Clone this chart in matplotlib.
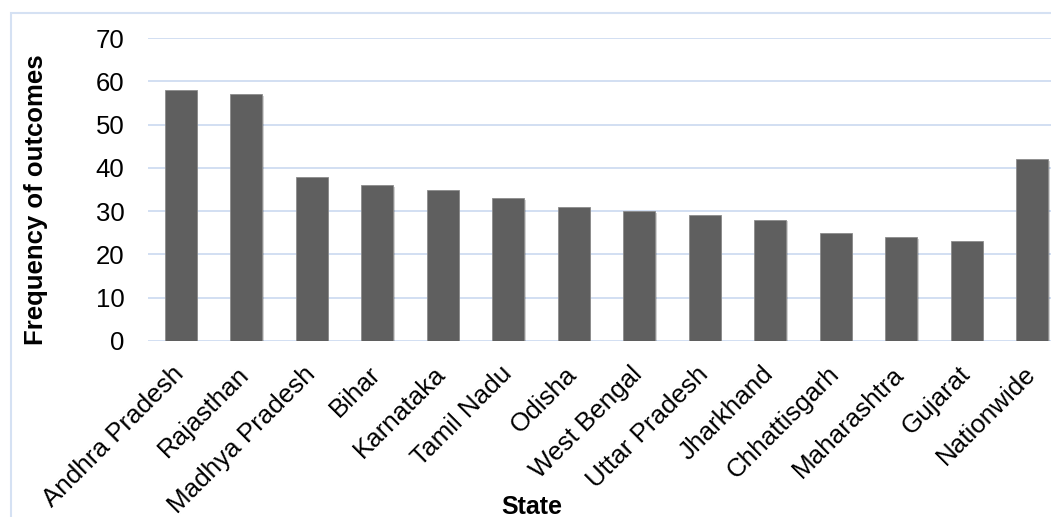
import matplotlib.pyplot as plt
import matplotlib.patheffects as pe
import matplotlib.transforms as mtransforms
from matplotlib.patches import Rectangle

states = ['Andhra Pradesh', 'Rajasthan', 'Madhya Pradesh', 'Bihar', 'Karnataka',
          'Tamil Nadu', 'Odisha', 'West Bengal', 'Uttar Pradesh', 'Jharkhand',
          'Chhattisgarh', 'Maharashtra', 'Gujarat', 'Nationwide']
outcomes = [58, 57, 38, 36, 35, 33, 31, 30, 29, 28, 25, 24, 23, 42]
yticks = [0, 10, 20, 30, 40, 50, 60, 70]

plt.rcParams['font.family'] = ['Liberation Sans', 'DejaVu Sans']

W, H = 1051, 517
fig = plt.figure(figsize=(W / 100, H / 100), dpi=100)
# plot area runs a little past the right edge of the canvas
ax = fig.add_axes([148 / W, (H - 341) / H, 917 / W, (341 - 38) / H])

x = range(len(states))
bars = ax.bar(x, outcomes, width=0.49, color='#5f5f5f', edgecolor='#8c8c8c',
              linewidth=0.6, zorder=3)
for b in bars:
    b.set_path_effects([pe.SimplePatchShadow(offset=(1.2, -1.2), shadow_rgbFace='#000000', alpha=0.18),
                        pe.Normal()])

ax.set_xlim(-0.5, len(states) - 0.5)
ax.set_ylim(0, 70)
ax.set_yticks(yticks)
ax.grid(axis='y', color='#cfdcf1', linewidth=1.3, zorder=0)
ax.set_axisbelow(True)
for s in ax.spines.values():
    s.set_visible(False)

ax.tick_params(axis='y', length=0, pad=17, labelsize=18.5)
ax.tick_params(axis='x', length=0, pad=15, labelsize=18.7)
ax.set_xticks(list(x))
ax.set_xticklabels(states, rotation=45, ha='right', va='top', rotation_mode='anchor')
shift = mtransforms.ScaledTranslation(-9 / 100, 0, fig.dpi_scale_trans)
for lbl in ax.get_xticklabels():
    lbl.set_transform(lbl.get_transform() + shift)

fig.text(36 / W, 1 - 200 / H, 'Frequency of outcomes', rotation=90, ha='center', va='center',
         fontsize=18.5, fontweight='bold')
fig.text(532 / W, 1 - 507 / H, 'State', ha='center', va='center', fontsize=18, fontweight='bold')

# chart border
fig.patches.append(Rectangle((11 / W, -0.1), 1.2, (H - 12.5) / H + 0.1, transform=fig.transFigure,
                             fill=False, edgecolor='#d5e1f3', linewidth=1.5))

fig.savefig('out.png', dpi=100)
